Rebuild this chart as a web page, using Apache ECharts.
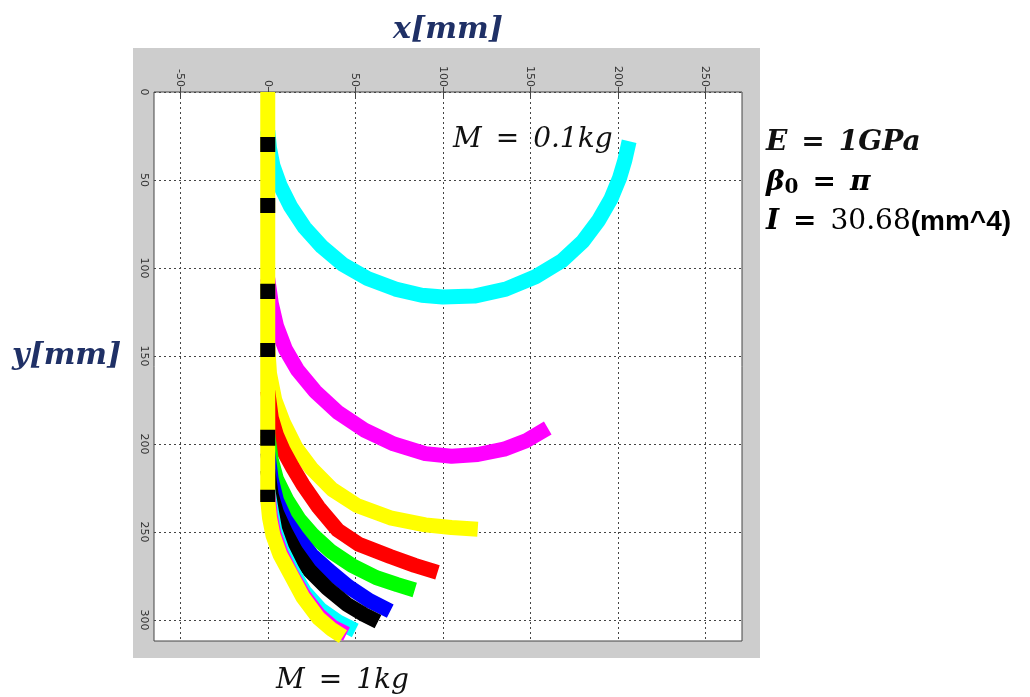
<!DOCTYPE html>
<html>
<head>
<meta charset="utf-8">
<title>Beam shape vs hanging mass</title>
<script src="https://cdn.jsdelivr.net/npm/echarts@6/dist/echarts.min.js"></script>
<style>
html, body { margin: 0; padding: 0; background: #fff; }
#chart { width: 1030px; height: 697px; }
</style>
</head>
<body>
<div id="chart"></div>
<script>
// tick labels (mm)
var xTicks = [-50, 0, 50, 100, 150, 200, 250];
var yTicks = [0, 50, 100, 150, 200, 250, 300];

var m01 = [[0, 22], [1, 32], [3, 42], [7, 53], [13, 65], [21, 77], [31, 88], [43, 98], [57, 106], [73, 112], [88, 115.5], [100, 116.5],
  [118, 116], [136, 112], [153, 105], [168, 96], [180, 85], [189, 73], [196, 61], [201, 49], [204, 39], [206.5, 28]];
var m02 = [[0, 106], [2, 120], [5, 133], [10, 146], [17, 158], [27, 170], [40, 182], [55, 192], [72, 200], [90, 205.5], [105, 207],
  [120, 206], [135, 203], [148, 198], [160, 191]];
var m03 = [[0, 145], [1, 160], [4, 175], [9, 188], [16, 202], [25, 214], [37, 226], [51, 235], [70, 242], [90, 246], [105, 247.5], [120, 248.5]];
var m04 = [[0, 170], [2, 185], [5, 195], [9, 204], [14, 213], [20, 223], [29, 236], [40, 249], [52, 257], [70, 264], [84, 269], [97, 273]];
var m05 = [[0, 195], [2, 209], [5, 220], [11, 232], [18, 243], [26, 252], [36, 261], [48, 269], [62, 276], [74, 280], [84, 283]];
var m06 = [[0, 205], [2, 220], [5, 232], [10, 243], [17, 253], [25, 263], [35, 272], [46, 281], [58, 289], [70, 295]];
var m07 = [[0, 215], [2, 229], [5, 239], [10, 250], [16, 261], [24, 272], [34, 282], [45, 291], [55, 297], [63, 301]];
var m08 = [[0, 226], [2, 238], [4, 249], [8, 260], [14, 272], [21, 284], [30, 294], [40, 301], [50, 306]];
var m09 = [[0, 228], [1.5, 241], [3.5, 251], [7.5, 262], [13.5, 274], [20.5, 286], [29, 297], [37, 304], [45, 308]];
var m10 = [[0, 0], [0, 232], [1, 242], [3, 252], [7, 263], [13, 274], [20, 287], [29, 299], [36, 305], [43, 309.5]];

// black marks on the vertical part, [top, bottom] in mm
var marks = [[25.6, 34.1], [60.2, 68.8], [109, 117.6], [142.6, 150.6], [192, 201], [226, 233]];

var chartDom = document.getElementById('chart');
var myChart = echarts.init(chartDom);

function beam(data, color) {
  return {
    type: 'line',
    data: data,
    symbol: 'none',
    silent: true,
    lineStyle: { color: color, width: 15, cap: 'butt', join: 'round' }
  };
}

var serif = '"DejaVu Serif", serif';
var sp = '\u2002';
var gridLine = { show: true, lineStyle: { color: '#444', width: 1, type: [2, 3] } };

var series = [
  beam(m01, '#00ffff'),
  beam(m02, '#ff00ff'),
  beam(m03, '#ffff00'),
  beam(m04, '#ff0000'),
  beam(m05, '#00ff00'),
  beam(m06, '#0000ff'),
  beam(m07, '#000000'),
  beam(m08, '#00ffff'),
  beam(m09, '#ff00ff'),
  beam(m10, '#ffff00')
];
marks.forEach(function (m) {
  series.push(beam([[0, m[0]], [0, m[1]]], '#000000'));
});

var option = {
  animation: false,
  backgroundColor: '#fff',
  grid: {
    left: 154, top: 92, width: 588, height: 549,
    outerBoundsMode: 'none', containLabel: false,
    show: true, backgroundColor: '#fff', borderColor: '#444', borderWidth: 1
  },
  graphic: [
    { type: 'rect', z: -10, shape: { x: 133, y: 48, width: 627, height: 610 }, style: { fill: '#cdcdcd' } },
    { type: 'text', x: 12, y: 356, style: { text: 'y[mm]', font: 'italic bold 30px ' + serif, fill: '#1f3066', verticalAlign: 'middle' } },
    { type: 'text', x: 453, y: 140, style: { text: 'M' + sp + '=' + sp + '0.1kg', font: 'italic 28px ' + serif, fill: '#111', verticalAlign: 'middle' } },
    { type: 'text', x: 276, y: 681, style: { text: 'M' + sp + '=' + sp + '1kg', font: 'italic 28px ' + serif, fill: '#111', verticalAlign: 'middle' } },
    { type: 'text', x: 766, y: 143, style: { text: 'E' + sp + '=' + sp + '1GPa', font: 'italic bold 28px ' + serif, fill: '#111', verticalAlign: 'middle' } },
    { type: 'text', x: 766, y: 183, style: {
      text: '{b|β}{s|0}{b|' + sp + '=' + sp + 'π}', verticalAlign: 'middle',
      rich: {
        b: { font: 'italic bold 28px ' + serif, color: '#111' },
        s: { font: 'bold 20px ' + serif, color: '#111', padding: [10, 0, 0, 0] }
      } } },
    { type: 'text', x: 766, y: 222, style: {
      text: '{b|I' + sp + '=' + sp + '}{n|30.68}{c|(mm^4)}', verticalAlign: 'middle',
      rich: {
        b: { font: 'italic bold 28px ' + serif, color: '#111' },
        n: { font: '28px ' + serif, color: '#111' },
        c: { font: 'bold 28px "Liberation Sans", sans-serif', color: '#111' }
      } } }
  ],
  xAxis: [{
    type: 'value', position: 'top', min: -65, max: 271,
    name: 'x[mm]', nameLocation: 'middle', nameGap: 47,
    nameTextStyle: { fontFamily: serif, fontStyle: 'italic', fontWeight: 'bold', fontSize: 30, color: '#1f3066' },
    axisLine: { show: false },
    axisTick: { show: true, inside: true, length: 5, customValues: xTicks, lineStyle: { color: '#444' } },
    axisLabel: { customValues: xTicks, rotate: -90, margin: 5, fontFamily: 'DejaVu Sans', fontSize: 11, color: '#333' },
    splitLine: gridLine
  }, {
    type: 'value', position: 'bottom', min: -65, max: 271,
    axisLine: { show: false },
    axisTick: { show: true, inside: true, length: 5, customValues: xTicks, lineStyle: { color: '#444' } },
    axisLabel: { show: false },
    splitLine: { show: false }
  }],
  yAxis: [{
    type: 'value', position: 'left', inverse: true, min: 0, max: 312,
    axisLine: { show: false },
    axisTick: { show: true, inside: true, length: 5, customValues: yTicks, lineStyle: { color: '#444' } },
    axisLabel: { customValues: yTicks, rotate: -90, margin: 5, fontFamily: 'DejaVu Sans', fontSize: 11, color: '#333' },
    splitLine: gridLine
  }, {
    type: 'value', position: 'right', inverse: true, min: 0, max: 312,
    axisLine: { show: false },
    axisTick: { show: true, inside: true, length: 5, customValues: yTicks, lineStyle: { color: '#444' } },
    axisLabel: { show: false },
    splitLine: { show: false }
  }],
  series: series
};

option && myChart.setOption(option);
</script>
</body>
</html>
